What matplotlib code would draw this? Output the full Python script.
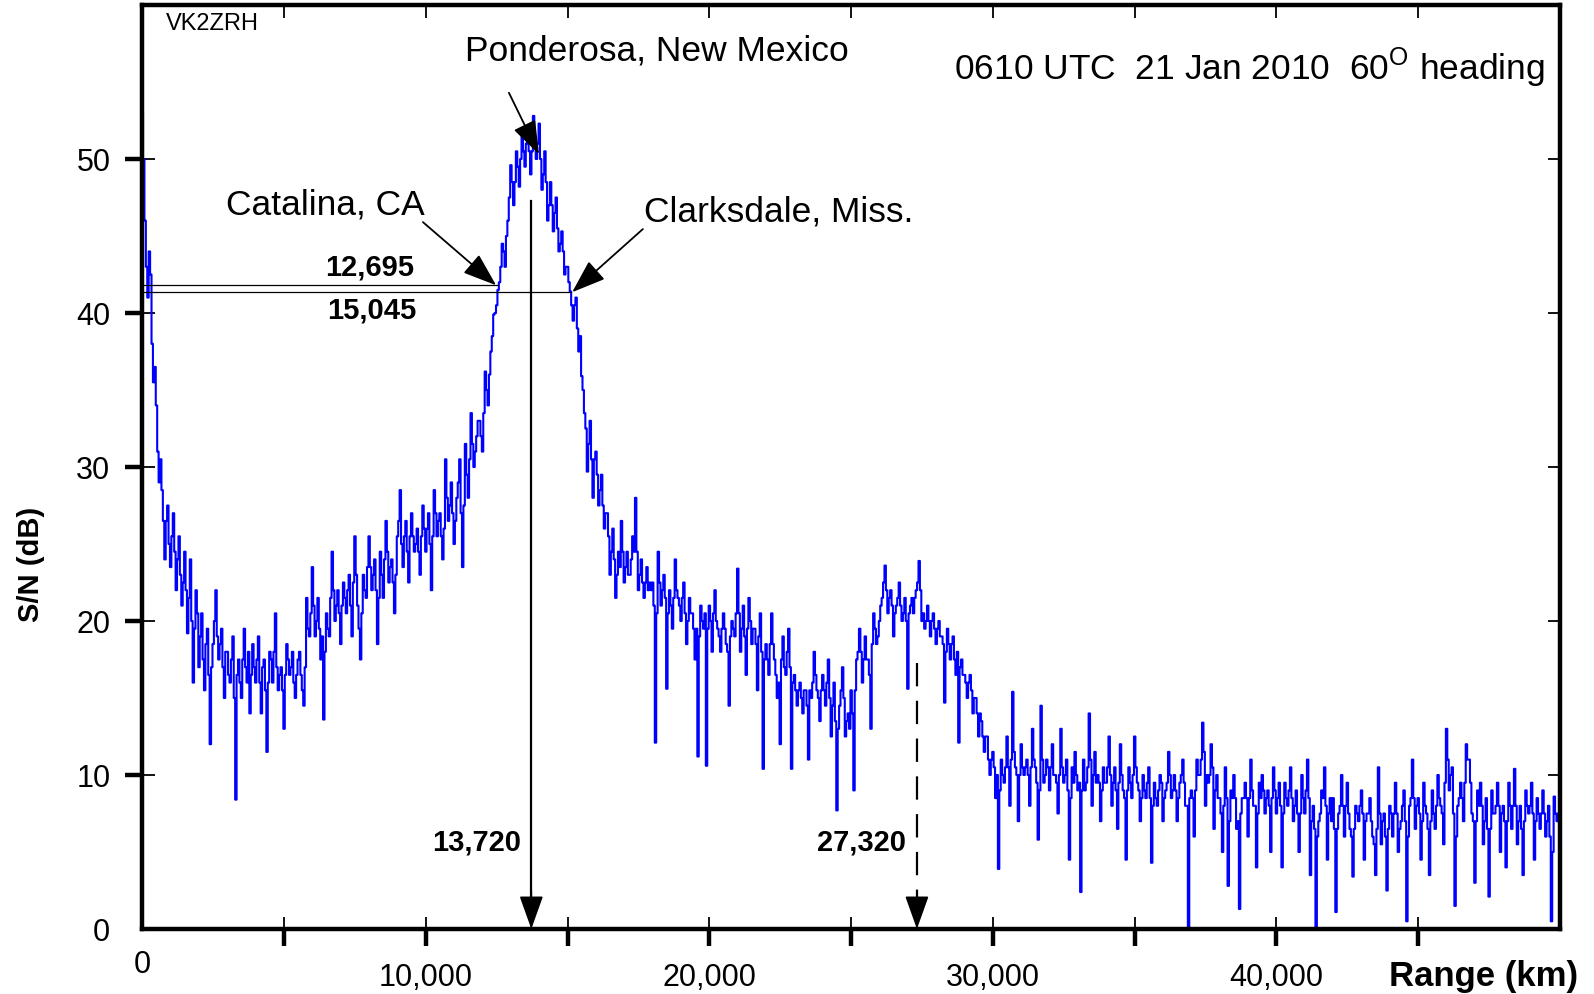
import matplotlib
matplotlib.use("Agg")
import matplotlib.pyplot as plt
from matplotlib.ticker import FixedLocator
import numpy as np

plt.rcParams['font.family'] = ['Liberation Sans', 'DejaVu Sans']
plt.rcParams['mathtext.fontset'] = 'custom'
plt.rcParams['mathtext.rm'] = 'Liberation Sans'

# ---------------- data ----------------
# samples at 0, 100, 200 ... km
sn_db_whole = [
    53.0, 46.0, 41.0, 42.5, 35.5, 34.0, 29.0, 28.5, 24.0, 27.5, 23.5, 27.0, 22.0, 25.5, 21.0, 24.5, 19.2, 24.0, 16.0, 22.0,
    17.0, 20.5, 15.5, 19.5, 12.0, 18.5, 22.0, 17.5, 19.5, 15.0, 18.0, 16.0, 19.0, 8.4, 17.5, 15.0, 19.5, 16.0, 14.0, 18.5,
    16.0, 19.0, 14.0, 17.5, 11.5, 18.0, 16.0, 20.5, 15.5, 17.0, 13.0, 18.5, 16.5, 18.0, 15.0, 17.5, 16.5, 14.5, 21.5, 19.0,
    23.5, 19.0, 21.5, 17.5, 13.6, 20.5, 19.0, 24.5, 20.0, 22.0, 18.5, 22.5, 20.5, 23.0, 19.0, 25.5, 21.0, 17.5, 23.0, 21.5,
    25.5, 22.0, 24.0, 18.5, 24.5, 21.5, 26.5, 22.5, 24.0, 20.5, 25.5, 28.5, 23.5, 26.5, 22.5, 27.0, 24.5, 26.0, 23.0, 27.5,
    24.5, 27.0, 22.0, 28.5, 25.5, 27.0, 24.0, 30.5, 26.5, 29.0, 25.0, 28.0, 30.5, 23.5, 31.5, 28.0, 33.5, 30.0, 32.0, 33.0,
    31.0, 36.2, 34.0, 37.5, 39.9, 40.5, 42.0, 44.5, 43.0, 46.0, 49.6, 47.0, 50.5, 48.2, 51.8, 49.5, 52.0, 49.0, 52.8, 50.0,
    52.3, 48.0, 50.5, 46.0, 48.5, 45.3, 47.5, 44.0, 45.3, 42.5, 43.0, 41.4, 39.5, 41.0, 37.5, 35.9, 33.5, 29.7, 33.0, 28.0,
    31.0, 27.5, 29.5, 26.0, 27.0, 23.0, 26.0, 21.5, 24.5, 26.5, 22.5, 24.5, 23.0, 25.5, 28.0, 22.0, 24.0, 21.5, 23.5, 22.5,
    22.5, 12.1, 24.5, 21.0, 23.0, 15.6, 22.0, 19.5, 24.0, 21.5, 20.0, 22.5, 18.5, 21.5, 20.5, 17.5, 11.2, 21.0, 19.5, 10.6,
    21.0, 18.0, 22.0, 19.5, 18.0, 20.5, 18.5, 14.5, 20.0, 19.0, 23.4, 18.0, 21.0, 16.5, 21.5, 18.5, 19.5, 15.5, 20.5, 10.4,
    18.5, 16.5, 20.5, 17.5, 15.0, 12.0, 19.0, 16.5, 19.5, 10.4, 16.5, 14.5, 16.0, 14.0, 15.5, 11.0, 15.0, 18.0, 15.5, 13.5,
    16.5, 14.5, 17.5, 12.5, 16.0, 7.7, 14.5, 17.0, 12.5, 14.0, 15.5, 9.0, 17.5, 19.5, 16.0, 19.0, 17.5, 13.0, 20.5, 18.5,
    20.0, 21.5, 23.6, 20.5, 22.0, 19.0, 21.0, 22.5, 20.0, 21.5, 15.6, 21.0, 20.5, 22.0, 23.9, 20.0, 19.5, 21.0, 19.0, 20.5,
    18.5, 20.0, 19.0, 14.7, 19.5, 17.5, 19.0, 16.5, 12.1, 17.5, 16.5, 15.0, 16.5, 14.0, 15.0, 12.5, 13.5, 11.5, 12.5, 10.0,
    11.5, 8.5, 3.9, 11.0, 9.5, 12.5, 8.0, 15.4, 10.5, 7.0, 12.0, 10.0, 11.0, 8.0, 13.0, 10.5, 5.8, 14.5, 9.5, 11.0,
    9.0, 12.0, 10.0, 7.5, 13.0, 9.5, 11.0, 4.5, 10.5, 11.5, 9.0, 2.4, 11.0, 9.5, 14.0, 8.0, 11.5, 10.0, 7.0, 10.5,
    9.5, 12.5, 8.0, 10.5, 6.5, 12.0, 9.0, 4.5, 10.5, 8.5, 12.5, 9.5, 7.0, 10.0, 8.5, 10.5, 4.3, 9.5, 8.0, 10.0,
    7.0, 9.0, 11.5, 8.5, 10.0, 7.0, 9.5, 11.0, 8.0, 0.1, 9.0, 6.0, 11.0, 10.0, 13.4, 8.0, 9.5, 12.0, 6.5, 10.0,
    8.5, 5.0, 10.5, 2.8, 9.0, 10.0, 6.5, 1.3, 8.5, 9.5, 6.0, 11.0, 8.0, 4.0, 9.5, 10.0, 7.5, 9.0, 5.0, 10.5,
    7.5, 9.5, 4.0, 9.5, 8.0, 10.5, 7.0, 9.0, 5.0, 10.0, 7.5, 11.0, 3.5, 8.0, 0.0, 7.0, 9.0, 10.5, 4.5, 8.5,
    8.5, 1.1, 7.5, 10.0, 6.0, 9.5, 6.5, 3.4, 8.0, 7.0, 9.0, 4.5, 7.5, 8.5, 6.0, 3.5, 10.5, 5.5, 7.5, 2.5,
    8.0, 6.0, 9.5, 5.0, 7.0, 9.0, 0.5, 8.0, 11.0, 6.5, 8.5, 4.5, 9.5, 7.5, 3.5, 9.0, 6.5, 10.0, 8.0, 5.5,
    13.0, 9.0, 10.5, 1.5, 8.0, 9.5, 7.0, 12.0, 11.0, 7.5, 3.0, 9.0, 9.5, 5.5, 8.5, 2.1, 9.0, 7.5, 9.5, 5.0,
    8.0, 4.0, 9.5, 6.5, 10.4, 5.5, 8.0, 3.5, 9.0, 7.5, 9.5, 4.5, 8.5, 6.5, 9.0, 6.0, 8.0, 0.5, 8.6, 7.0,
]
# samples at 50, 150, 250 ... km
sn_db_half = [
    50.0, 43.0, 44.0, 38.0, 36.5, 31.0, 30.5, 26.5, 26.5, 25.0, 25.5, 24.5, 24.0, 23.0, 22.5, 22.0, 21.5, 20.0, 19.5, 20.5,
    19.0, 17.5, 18.5, 16.5, 17.0, 20.0, 19.0, 18.5, 17.0, 18.0, 16.5, 17.5, 15.0, 16.5, 16.0, 17.5, 17.0, 18.0, 16.5, 17.0,
    17.5, 16.0, 17.0, 15.5, 16.0, 17.5, 18.0, 17.0, 16.5, 15.5, 16.5, 17.5, 17.0, 16.0, 16.5, 18.0, 15.5, 17.0, 19.5, 20.5,
    21.0, 20.0, 19.5, 19.0, 18.0, 19.5, 21.5, 22.0, 21.0, 20.5, 21.0, 21.5, 22.0, 21.0, 22.5, 23.0, 19.5, 20.5, 22.0, 23.5,
    23.5, 23.0, 22.0, 21.5, 23.0, 24.0, 24.5, 23.5, 22.5, 23.0, 26.5, 25.0, 25.5, 24.5, 25.5, 25.5, 25.0, 24.5, 25.5, 26.0,
    26.0, 25.0, 25.5, 27.0, 26.5, 25.5, 26.0, 28.0, 27.5, 27.0, 26.5, 29.0, 27.0, 27.5, 29.5, 30.5, 31.5, 31.0, 33.0, 32.0,
    33.5, 35.0, 36.0, 38.5, 40.0, 41.5, 43.0, 44.0, 45.0, 47.5, 48.5, 48.5, 49.5, 50.0, 50.5, 51.0, 50.5, 50.5, 51.0, 51.0,
    50.0, 49.0, 48.5, 47.0, 47.0, 46.5, 45.5, 44.5, 44.0, 43.0, 42.0, 40.5, 40.5, 39.0, 38.5, 35.0, 32.5, 31.5, 30.5, 30.5,
    29.5, 28.5, 27.5, 27.0, 25.5, 24.5, 24.0, 23.0, 23.5, 24.5, 23.5, 23.0, 24.0, 24.5, 24.5, 23.0, 22.5, 22.5, 22.0, 22.0,
    21.0, 20.5, 22.5, 22.0, 21.5, 20.5, 21.0, 21.5, 22.0, 21.0, 21.5, 20.5, 20.0, 20.5, 19.5, 19.5, 19.0, 20.0, 20.5, 19.5,
    20.0, 20.5, 20.0, 19.0, 19.5, 19.5, 18.0, 19.0, 19.5, 20.5, 20.5, 19.5, 19.0, 19.5, 20.0, 19.5, 18.5, 19.0, 18.0, 17.5,
    17.5, 18.5, 18.5, 16.5, 16.0, 17.5, 17.0, 18.0, 17.0, 16.0, 15.5, 15.5, 15.0, 15.5, 14.5, 15.5, 16.0, 16.5, 15.0, 15.5,
    15.5, 16.0, 15.0, 14.5, 13.5, 13.0, 15.5, 15.0, 13.5, 13.0, 14.0, 15.5, 18.0, 18.0, 17.5, 17.5, 16.5, 18.5, 19.5, 19.0,
    21.0, 22.5, 22.0, 21.5, 21.0, 20.5, 21.5, 21.0, 20.5, 20.0, 20.5, 21.5, 21.5, 22.5, 22.0, 20.5, 20.0, 20.0, 20.0, 19.5,
    19.5, 19.0, 18.5, 18.0, 18.5, 18.5, 17.5, 18.0, 17.0, 16.5, 16.0, 16.0, 15.5, 15.0, 14.0, 14.0, 12.5, 12.5, 11.0, 11.0,
    10.5, 10.0, 9.0, 10.0, 10.5, 10.5, 11.0, 11.5, 10.0, 10.0, 10.5, 10.5, 10.0, 10.5, 11.0, 9.5, 9.0, 11.0, 10.0, 10.5,
    10.5, 10.0, 9.5, 10.0, 10.5, 10.0, 9.0, 8.5, 9.5, 10.0, 9.5, 9.0, 9.0, 10.5, 11.0, 10.0, 9.5, 9.5, 9.0, 9.5,
    10.5, 10.0, 9.5, 9.0, 9.5, 10.0, 8.5, 9.0, 9.5, 10.0, 10.5, 9.0, 8.5, 9.0, 9.5, 8.5, 8.0, 8.5, 9.0, 9.5,
    8.5, 9.5, 10.0, 9.0, 9.0, 8.5, 10.0, 9.5, 8.0, 8.5, 8.5, 9.0, 10.0, 11.0, 11.5, 10.0, 10.0, 10.5, 9.0, 8.5,
    7.5, 8.0, 8.5, 7.0, 8.5, 8.5, 7.0, 7.5, 8.5, 8.5, 8.5, 9.0, 8.0, 7.5, 8.5, 9.0, 8.5, 8.0, 8.5, 9.0,
    8.5, 8.0, 7.5, 8.5, 9.0, 8.5, 8.0, 7.5, 7.5, 8.5, 9.0, 8.5, 7.0, 6.5, 6.0, 7.5, 8.5, 8.0, 7.5, 7.0,
    6.5, 6.5, 8.0, 8.0, 8.0, 7.5, 6.0, 6.5, 7.5, 8.0, 7.5, 7.0, 7.5, 7.0, 5.5, 6.5, 7.5, 7.0, 6.0, 6.5,
    7.5, 7.5, 7.5, 6.5, 8.0, 7.0, 6.0, 8.5, 8.5, 8.0, 7.5, 7.0, 8.0, 6.5, 7.0, 7.5, 8.0, 8.5, 7.5, 9.5,
    11.0, 10.0, 7.5, 6.0, 8.5, 8.5, 9.5, 11.0, 9.5, 7.0, 7.0, 8.0, 8.0, 7.0, 6.5, 6.5, 7.5, 8.0, 8.0, 7.5,
    7.0, 7.0, 8.0, 8.0, 8.0, 7.0, 6.5, 7.0, 8.0, 8.0, 7.5, 7.0, 7.5, 7.5, 7.5, 7.0, 6.0, 5.0, 7.5, 7.5,
]
range_step_km = 100
half_offset_km = 50

x_ticks = [5000, 10000, 15000, 20000, 25000, 30000, 35000, 40000, 45000]
x_tick_labels = ['', '10,000', '', '20,000', '', '30,000', '', '40,000', '']
y_ticks = [0, 10, 20, 30, 40, 50]
y_tick_labels = ['0', '10', '20', '30', '40', '50']

catalina_km, catalina_db = 12530, 41.8
clarksdale_km, clarksdale_db = 15130, 41.35
ponderosa_km = 13720
second_hop_km = 27320

# interleave the two sample sets along range
x_whole = range_step_km * np.arange(len(sn_db_whole))
x_half = half_offset_km + range_step_km * np.arange(len(sn_db_half))
range_km = np.column_stack([x_whole, x_half]).ravel()
sn_db = np.column_stack([sn_db_whole, sn_db_half]).ravel()

# ---------------- figure ----------------
fig = plt.figure(figsize=(15.94, 9.95), dpi=100)
ax = fig.add_axes([142.3 / 1594, 65 / 995, (1560 - 142.3) / 1594, 924 / 995])
ax.set_xlim(0, 50000)
ax.set_ylim(0, 60)

ax.plot(range_km, sn_db, color='#0000ff', lw=1.5, drawstyle='steps-mid', zorder=2)

for s in ax.spines.values():
    s.set_linewidth(3.2)

ax.set_xticks(x_ticks)
ax.set_xticklabels(x_tick_labels)
ax.set_yticks(y_ticks)
ax.set_yticklabels(y_tick_labels)
ax.xaxis.set_minor_locator(FixedLocator(x_ticks))
ax.yaxis.set_minor_locator(FixedLocator(y_ticks[1:]))
ax.xaxis.remove_overlapping_locs = False
ax.yaxis.remove_overlapping_locs = False
ax.tick_params(which='major', direction='out', length=12, width=3.2,
               top=False, right=False, labelsize=22)
ax.tick_params(axis='x', which='major', pad=11.5)
ax.tick_params(axis='y', which='major', pad=11)
ax.tick_params(which='minor', direction='in', length=9, width=1.3,
               top=True, right=True, bottom=True, left=True)
ax.yaxis.get_major_ticks()[0].tick1line.set_visible(False)

# "0" x label sits higher than the others
ax.text(0, -0.038, '0', transform=ax.get_xaxis_transform(), ha='center', va='center',
        fontsize=22)

# horizontal reference lines
ax.plot([0, catalina_km], [catalina_db, catalina_db], color='k', lw=0.9, zorder=3)
ax.plot([0, clarksdale_km], [clarksdale_db, clarksdale_db], color='k', lw=0.9, zorder=3)
ax.text(9600, 43.05, '12,695', ha='right', va='center', fontsize=21, weight='bold')
ax.text(9660, 40.25, '15,045', ha='right', va='center', fontsize=21, weight='bold')

head = '-|>,head_length=1.4,head_width=0.5'

# vertical arrow at 13,720
ax.plot([ponderosa_km, ponderosa_km], [47.3, 1.0], color='k', lw=1.6, zorder=3)
ax.annotate('', xy=(ponderosa_km, 0), xytext=(ponderosa_km, 2.5),
            arrowprops=dict(arrowstyle=head, mutation_scale=15, color='k', lw=1.2,
                            shrinkA=0, shrinkB=0), zorder=4)
ax.text(13360, 5.7, '13,720', ha='right', va='center', fontsize=21, weight='bold')

# dashed arrow at 27,320
ax.plot([second_hop_km, second_hop_km], [17.3, 1.0], color='k', lw=1.6,
        dashes=(10.5, 6.5), zorder=3)
ax.annotate('', xy=(second_hop_km, 0), xytext=(second_hop_km, 2.5),
            arrowprops=dict(arrowstyle=head, mutation_scale=15, color='k', lw=1.2,
                            shrinkA=0, shrinkB=0), zorder=4)
ax.text(26930, 5.7, '27,320', ha='right', va='center', fontsize=21, weight='bold')

# labelled arrows
ax.annotate('', xy=(13990, 50.3), xytext=(12930, 54.3),
            arrowprops=dict(arrowstyle=head, mutation_scale=15, color='k', lw=1.3,
                            shrinkA=0, shrinkB=0))
ax.annotate('', xy=(catalina_km - 50, catalina_db), xytext=(9898, 45.9),
            arrowprops=dict(arrowstyle=head, mutation_scale=15, color='k', lw=1.3,
                            shrinkA=0, shrinkB=0))
ax.annotate('', xy=(clarksdale_km + 30, clarksdale_db), xytext=(17655, 45.45),
            arrowprops=dict(arrowstyle=head, mutation_scale=15, color='k', lw=1.3,
                            shrinkA=0, shrinkB=0))

ax.text(18135, 57.1, 'Ponderosa, New Mexico', ha='center', va='center', fontsize=25.5)
ax.text(6460, 47.1, 'Catalina, CA', ha='center', va='center', fontsize=25.5)
ax.text(22450, 46.6, 'Clarksdale, Miss.', ha='center', va='center', fontsize=25.5)
ax.text(49470, 56.0, r'0610 UTC  21 Jan 2010  60$^{\mathrm{O}}$ heading',
        ha='right', va='center', fontsize=25.5)
ax.text(840, 58.8, 'VK2ZRH', ha='left', va='center', fontsize=17)

fig.text(31 / 1594, 1 - 564 / 995, 'S/N (dB)', rotation=90, ha='center', va='center',
         fontsize=21, weight='bold')
fig.text(1578 / 1594, 1 - 977 / 995, 'Range (km)', ha='right', va='center',
         fontsize=25, weight='bold')

fig.savefig('out.png', dpi=100)
